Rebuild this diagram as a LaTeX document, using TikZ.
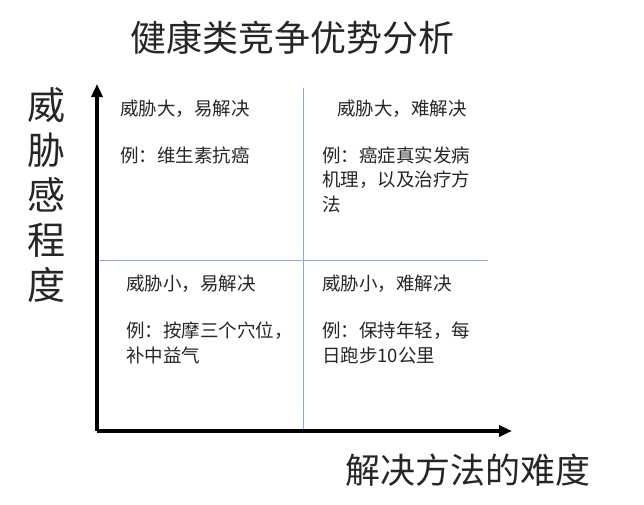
\documentclass[tikz,border=0pt]{standalone}
\usepackage{fontspec}
\setmainfont{Noto Sans CJK SC}
\usetikzlibrary{arrows.meta}
\begin{document}
\begin{tikzpicture}[x=1pt,y=-1pt,
  axis/.style={line width=3.5pt,-{Triangle[length=13pt,width=11pt]}},
  divider/.style={line width=0.8pt,draw={rgb,255:red,140;green,170;blue,210}},
  qtext/.style={anchor=west,inner sep=0pt,font=\fontsize{18.5}{22}\selectfont},
  every node/.style={text=black!85}]
\useasboundingbox (0,0) rectangle (644,504);
\coordinate (o) at (97,431);
\coordinate (ytop) at (97,84);
\coordinate (xend) at (512,431);
\coordinate (vt) at (303,88);
\coordinate (vb) at (303,431);
\coordinate (hl) at (97,260);
\coordinate (hr) at (488,260);
\draw[divider] (vt) -- (vb);
\draw[divider] (hl) -- (hr);
\draw[axis] (o) -- (ytop);
\draw[axis] (o) -- (xend);
\node[font=\fontsize{36}{40}\selectfont] (title) at (292,38) {健康类竞争优势分析};
\node[align=center,font=\fontsize{38}{45}\selectfont] (ylab) at (46,195) {威\\胁\\感\\程\\度};
\node[font=\fontsize{35}{38}\selectfont] (xlab) at (468,470) {解决方法的难度};
\node[qtext] (q1a) at (120,109) {威胁大，易解决};
\node[qtext] (q1b) at (120,155) {例：维生素抗癌};
\node[qtext] (q2a) at (337,109) {威胁大，难解决};
\node[qtext] (q2b) at (322,155) {例：癌症真实发病};
\node[qtext] (q2c) at (322,180) {机理，以及治疗方};
\node[qtext] (q2d) at (322,204) {法};
\node[qtext] (q3a) at (126,284) {威胁小，易解决};
\node[qtext] (q3b) at (126,331) {例：按摩三个穴位，};
\node[qtext] (q3c) at (126,355) {补中益气};
\node[qtext] (q4a) at (322,284) {威胁小，难解决};
\node[qtext] (q4b) at (322,331) {例：保持年轻，每};
\node[qtext] (q4c) at (322,355) {日跑步10公里};
\end{tikzpicture}
\end{document}
